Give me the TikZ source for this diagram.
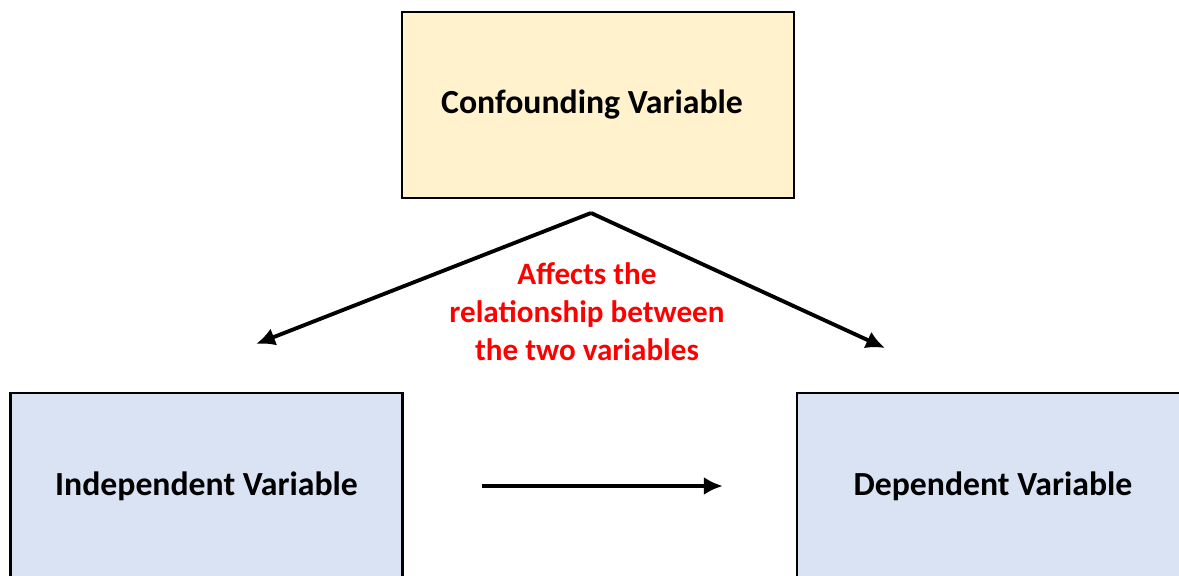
\documentclass[tikz,border=0pt]{standalone}
\usepackage{fontspec}
\setmainfont{Carlito}
\usetikzlibrary{arrows.meta}

\definecolor{boxyellow}{HTML}{FFF2CC}
\definecolor{boxblue}{HTML}{DAE3F3}

\begin{document}
\begin{tikzpicture}
        \tikzset{varbox/.style={rectangle, draw, line width=1.3pt, minimum width=7.84cm, minimum height=3.72cm, align=center, font=\fontsize{19.2}{22}\selectfont\bfseries},
                 link/.style={line width=2.2pt, -{Latex[length=0.38cm, width=0.36cm]}}}
        \useasboundingbox (0,0) rectangle (23.58,-11.52);
        \clip (0,0) rectangle (23.58,-11.52);
        % the three variables
        \node[varbox, fill=boxyellow] (confound) at (11.96,-2.1) {\hspace*{-0.24cm}\raisebox{-0.08cm}{Confounding Variable}};
        \node[varbox, fill=boxblue] (indep) at (4.13,-9.72) {Independent Variable};
        \node[varbox, fill=boxblue] (dep) at (19.86,-9.72) {Dependent Variable};
        % effect of the confounder
        \coordinate (apex) at (11.82,-4.26);
        \coordinate (lefttip) at (5.12,-6.88);
        \coordinate (righttip) at (17.7,-6.96);
        \node[text=red, align=center, font=\fontsize{17.7}{21.6}\selectfont\bfseries] (effect) at (11.74,-6.24) {Affects the\\relationship between\\the two variables};
        \draw[link] (apex) -- (lefttip);
        \draw[link] (apex) -- (righttip);
        \draw[link] ([xshift=1.56cm]indep.east) -- ([xshift=-1.46cm]dep.west);
    \end{tikzpicture}
\end{document}
